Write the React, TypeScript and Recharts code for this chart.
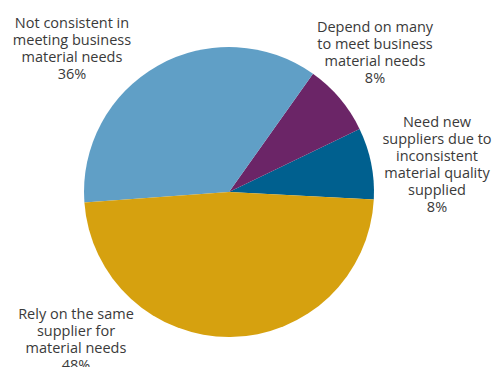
import React from 'react';
import { PieChart, Pie, Cell } from 'recharts';

const categories = [
  'Need new suppliers due to inconsistent material quality supplied',
  'Depend on many to meet business material needs',
  'Not consistent in meeting business material needs',
  'Rely on the same supplier for material needs',
];
const shares = [8, 8, 36, 48];
const labelLines = [
  ['Need new', 'suppliers due to', 'inconsistent', 'material quality', 'supplied', '8%'],
  ['Depend on many', 'to meet business', 'material needs', '8%'],
  ['Not consistent in', 'meeting business', 'material needs', '36%'],
  ['Rely on the same', 'supplier for', 'material needs', '48%'],
];
const colors = ['#00608f', '#6b2567', '#609fc6', '#d6a10f'];

// label block centre (x) and first baseline (y), relative to the pie centre
const labelAnchors = [
  { dx: 208, dy: -65 },
  { dx: 146, dy: -160 },
  { dx: -157, dy: -164 },
  { dx: -153, dy: 127 },
];

const data = categories.map((name, i) => ({ name, value: shares[i] }));

const LINE_H = 17;

const renderLabel = (props: any) => {
  const { cx, cy, index } = props;
  const a = labelAnchors[index];
  return (
    <text
      x={cx + a.dx}
      y={cy + a.dy}
      textAnchor="middle"
      fill="#3a3a3a"
      fontSize={14.5}
      fontFamily="'Open Sans', sans-serif"
    >
      {labelLines[index].map((line, j) => (
        <tspan key={j} x={cx + a.dx} y={cy + a.dy + j * LINE_H}>
          {line}
        </tspan>
      ))}
    </text>
  );
};

export default function App() {
  return (
    <div style={{ position: 'absolute', left: 0, top: 0, width: 496, height: 367, background: '#fff' }}>
      <PieChart width={496} height={367} margin={{ top: 0, right: 0, bottom: 0, left: 0 }}>
        <Pie
          data={data}
          dataKey="value"
          nameKey="name"
          cx={229}
          cy={192}
          outerRadius={145}
          startAngle={-3}
          endAngle={357}
          stroke="none"
          labelLine={false}
          label={renderLabel}
          isAnimationActive={false}
        >
          {data.map((d, i) => (
            <Cell key={d.name} fill={colors[i]} />
          ))}
        </Pie>
      </PieChart>
    </div>
  );
}
